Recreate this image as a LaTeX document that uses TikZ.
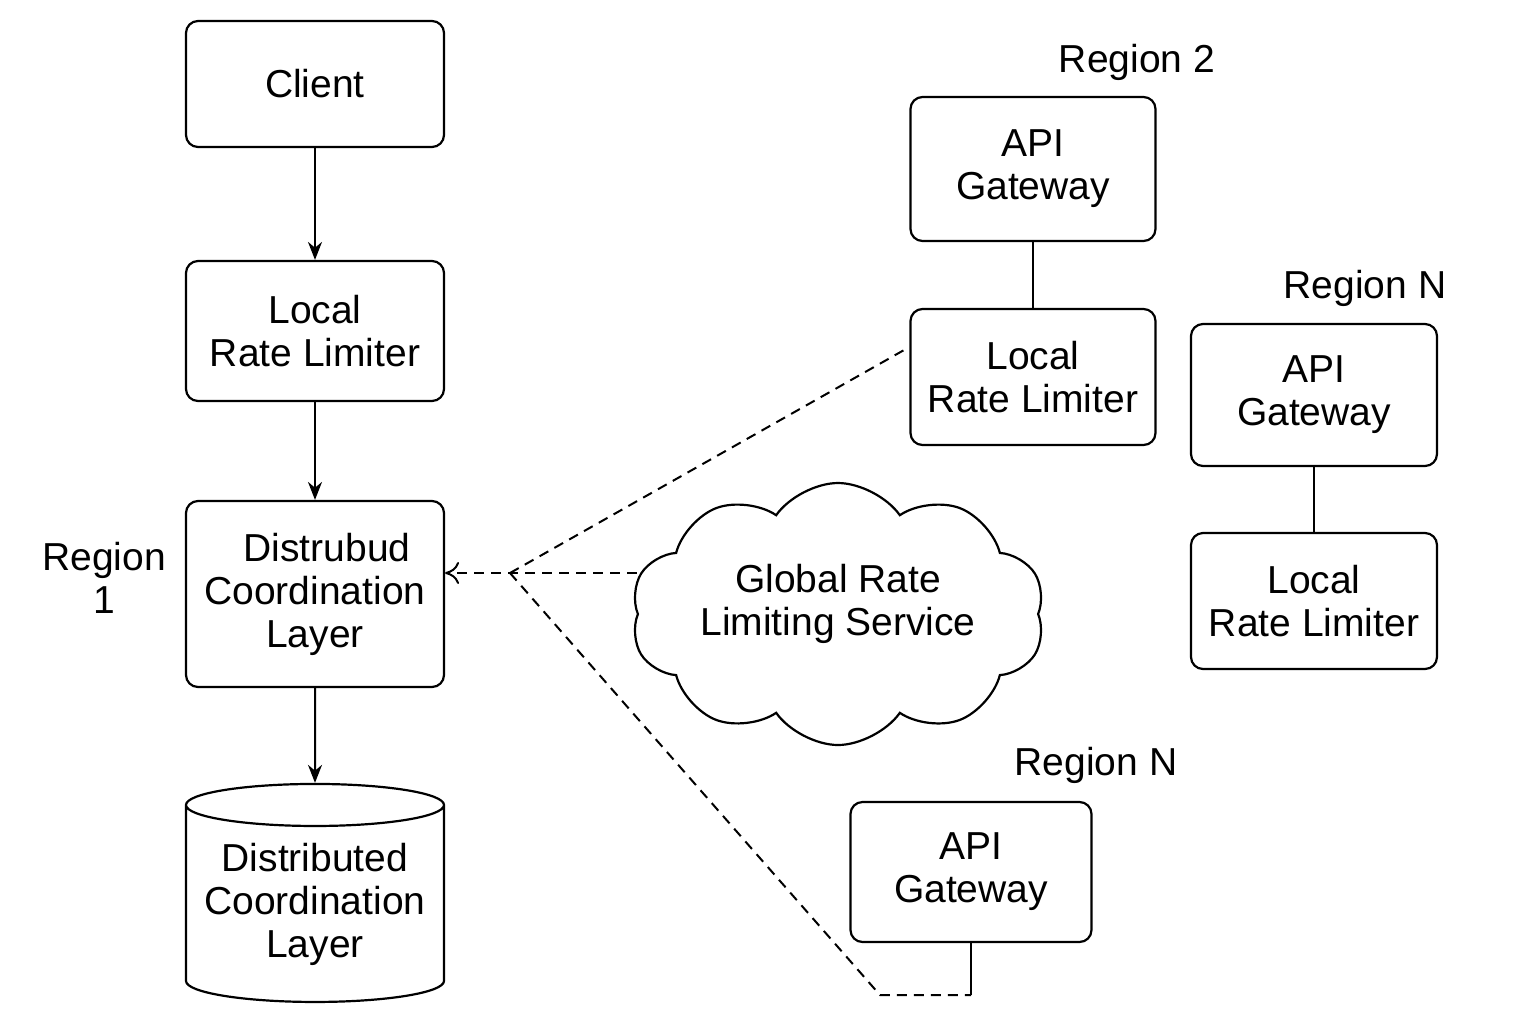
\documentclass[tikz,border=0pt]{standalone}
\usepackage{fontspec}
\setmainfont{Liberation Sans}
\usetikzlibrary{arrows.meta,shapes.geometric,shapes.symbols}

\begin{document}
\begin{tikzpicture}[x=0.5pt, y=-0.5pt,
                    every node/.style = {
                      font=\fontsize{19.5}{21.5}\selectfont
                    },
                    box/.style = {
                      draw, line width=1.1pt,
                      rounded corners=6pt,
                      align=center, inner sep=0pt
                    },
                    store/.style = {
                      draw, line width=1.1pt,
                      cylinder, shape border rotate=90,
                      aspect=0.19, align=center, inner sep=0pt,
                      minimum width=129pt, minimum height=109pt
                    },
                    service/.style = {
                      draw, line width=1.1pt,
                      cloud, cloud puffs=10, cloud puff arc=110,
                      cloud ignores aspect, align=center,
                      minimum width=200pt, minimum height=131pt
                    },
                    region/.style = {align=center},
                    flow/.style = {
                      line width=1pt,
                      -{Stealth[length=9pt, width=7pt]}
                    },
                    link/.style = {
                      line width=1pt,
                      dash pattern=on 5pt off 3.5pt
                    }]
    \useasboundingbox (0,0) rectangle (1536,1024);

    \node[box, minimum width=129pt, minimum height=63pt]
      (client) at (315,84) {Client};
    \node[box, minimum width=129pt, minimum height=70pt]
      (local1) at (315,331) {Local\\Rate Limiter};
    \node[box, minimum width=129pt, minimum height=93pt]
      (coord1) at (315,594) {\hspace*{12pt}Distrubud\\Coordination\\Layer};
    \node[store] (db1) at (315,904)
      {Distributed\\Coordination\\Layer};
    \node[region] (r1) at (104,578) {Region\\1};

    \node[service] (global) at (838,614)
      {Global Rate\\Limiting Service\\[-7pt]\mbox{}};

    \node[region] (r2) at (1137,62) {Region 2};
    \node[box, minimum width=122.5pt, minimum height=72pt]
      (api2) at (1033,169) {API\\Gateway};
    \node[box, minimum width=122.5pt, minimum height=68pt]
      (local2) at (1033,377) {Local\\Rate Limiter};

    \node[region] (rn) at (1365,288) {Region N};
    \node[box, minimum width=123pt, minimum height=71pt]
      (apin) at (1314,395) {API\\Gateway};
    \node[box, minimum width=123pt, minimum height=68pt]
      (localn) at (1314,601) {Local\\Rate Limiter};

    \node[region] (rm) at (1096,765) {Region N};
    \node[box, minimum width=120.5pt, minimum height=70pt]
      (apim) at (971,872) {API\\Gateway};

    \coordinate (hub) at (510,573);
    \coordinate (bend) at (880,995);

    \draw[flow] (client) -- (local1);
    \draw[flow] (local1) -- (coord1);
    \draw[flow] (coord1) -- (db1);

    \draw[line width=1pt] (api2) -- (local2);
    \draw[line width=1pt] (apin) -- (localn);
    \draw[line width=1pt] (apim.south) -- (apim.south |- bend);

    \draw[link, -{To[length=7pt, width=11pt]}]
      (global.west |- hub) -- (hub) -- (coord1.east |- hub);
    \draw[link] (hub) -- ([yshift=15pt]local2.west);
    \draw[link] (hub) -- (bend) -- (apim.south |- bend);
  \end{tikzpicture}
\end{document}
